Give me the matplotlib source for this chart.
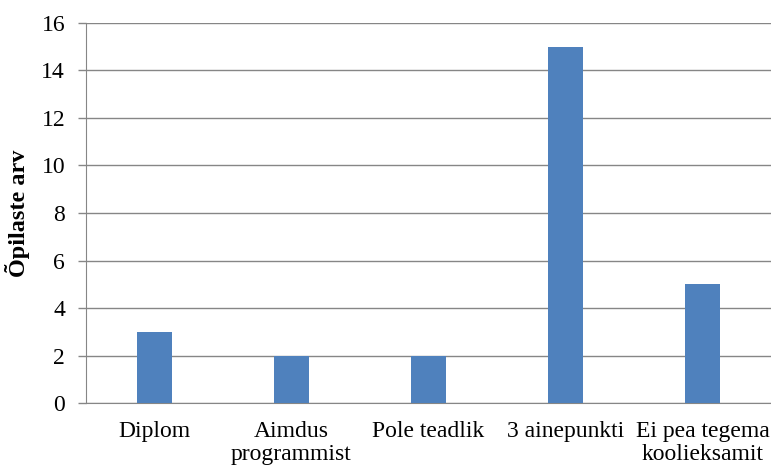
import numpy as np
import matplotlib.pyplot as plt

# andmed
kategooriad = ['Diplom', 'Aimdus\nprogrammist', 'Pole teadlik', '3 ainepunkti', 'Ei pea tegema\nkoolieksamit']
opilased = [3, 2, 2, 15, 5]

plt.rcParams['font.family'] = ['Liberation Serif', 'DejaVu Serif']

fig = plt.figure(figsize=(7.71, 4.69), dpi=100)
ax = fig.add_axes([0.1115, 0.1407, 0.8885, 0.8103])

x = np.arange(len(kategooriad))
ax.bar(x, opilased, width=0.25, color='#4F81BD', zorder=3)

ax.set_xlim(-0.5, len(kategooriad) - 0.5)
ax.set_ylim(0, 16)
ax.set_yticks(range(0, 17, 2))
ax.set_xticks(x)
ax.set_xticklabels(kategooriad, fontsize=17, linespacing=1.12)
ax.tick_params(axis='x', length=0, pad=13)
ax.tick_params(axis='y', length=6, width=1, color='#868686', labelsize=17, pad=9)

ax.grid(axis='y', color='#868686', linewidth=1, zorder=0)
for s in ['top', 'right']:
    ax.spines[s].set_visible(False)
for s in ['left', 'bottom']:
    ax.spines[s].set_color('#868686')

ax.set_ylabel('Õpilaste arv', fontsize=17.5, fontweight='bold', labelpad=8)

fig.savefig('out.png', dpi=100)
